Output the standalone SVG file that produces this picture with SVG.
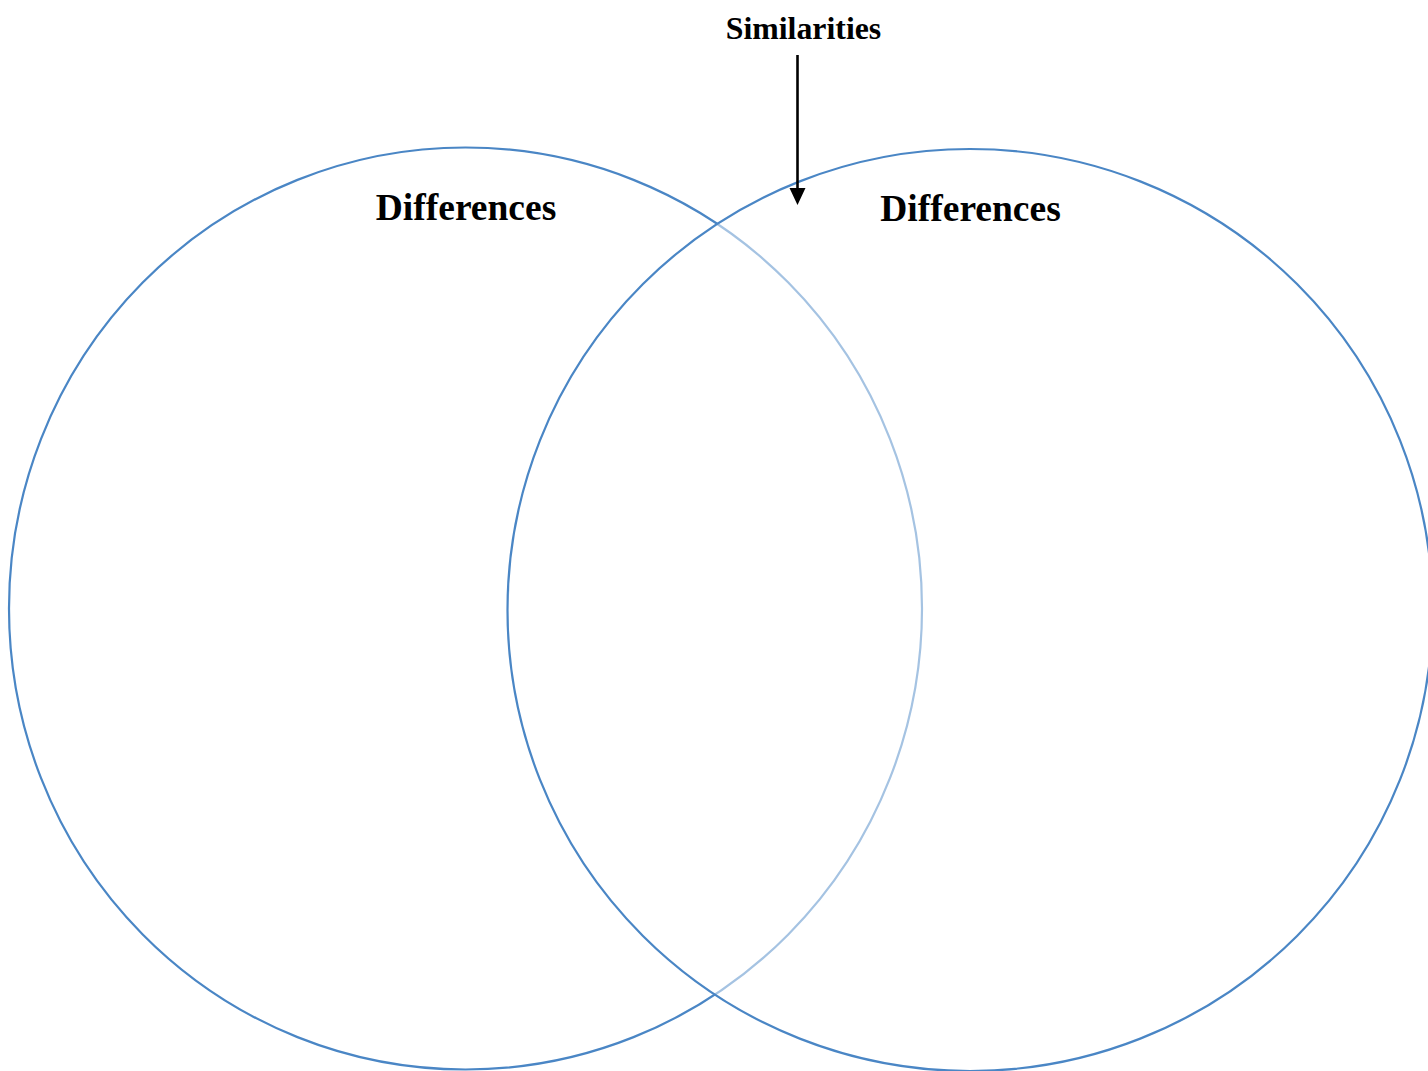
<svg xmlns="http://www.w3.org/2000/svg" width="1428" height="1071" viewBox="0 0 1428 1071">
<style>
.circ{stroke:#4A86C5;stroke-width:2.2}
.lbl{font-family:"Liberation Serif","Times New Roman",serif;font-weight:bold;fill:#000;text-anchor:middle}
</style>
<defs>
<marker id="ah" viewBox="0 0 16 17" refX="16" refY="8.5" markerWidth="16" markerHeight="17" markerUnits="userSpaceOnUse" orient="auto" preserveAspectRatio="none"><path d="M0,0 L16,8.5 L0,17 Z" fill="#000"/></marker>
</defs>
<rect width="1428" height="1071" fill="#fff"/>
<g id="left-circle">
<ellipse class="circ" cx="465.5" cy="608.5" rx="456.5" ry="461" fill="none"/>
<text class="lbl" x="466" y="220" font-size="37.5">Differences</text>
</g>
<g id="right-circle">
<ellipse class="circ" cx="970" cy="610" rx="462.5" ry="461" fill="#fff" fill-opacity="0.5"/>
<text class="lbl" x="970.5" y="221" font-size="37.5">Differences</text>
</g>
<g id="similarities">
<text class="lbl" x="803.5" y="39" font-size="31.8">Similarities</text>
</g>
<g id="connectors">
<line x1="797.5" y1="55" x2="797.5" y2="188" stroke="#000" stroke-width="2.6"/>
<path d="M789.5,188 L805.5,188 L797.5,205 Z" fill="#000"/>
</g>
</svg>
